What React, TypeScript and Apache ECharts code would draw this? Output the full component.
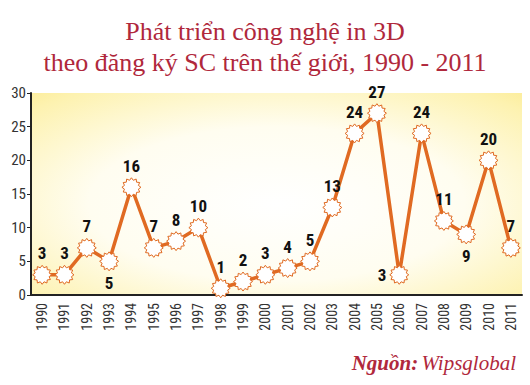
import React, { useEffect, useRef } from "react";
import * as echarts from "echarts";

const years = ["1990","1991","1992","1993","1994","1995","1996","1997","1998","1999","2000","2001","2002","2003","2004","2005","2006","2007","2008","2009","2010","2011"];
const values = [3,3,7,5,16,7,8,10,1,2,3,4,5,13,24,27,3,24,11,9,20,7];
const labelPos = ["top","top","top","bottom","top","top","top","top","top","top","top","top","top","top","top","top","left","top","top","bottom","top","top"];
const yTicks = [0, 5, 10, 15, 20, 25, 30];

function starPath(): string {
  const n = 12;
  const pts: string[] = [];
  for (let i = 0; i < n * 2; i++) {
    const r = i % 2 === 0 ? 50 : 38;
    const a = (Math.PI * i) / n - Math.PI / 2;
    pts.push(`${(50 + r * Math.cos(a)).toFixed(2)} ${(50 + r * Math.sin(a)).toFixed(2)}`);
  }
  return "path://M" + pts.join(" L") + " Z";
}

export default function App() {
  const ref = useRef<HTMLDivElement>(null);
  useEffect(() => {
    if (!ref.current) return;
    const chart = echarts.init(ref.current, null, { renderer: "svg" });
    const sym = starPath();
    const font = "'Liberation Sans Narrow', 'Roboto Condensed', 'DejaVu Sans Condensed', sans-serif";
    chart.setOption({
      animation: false,
      backgroundColor: "#ffffff",
      title: {
        text: "Phát triển công nghệ in 3D\ntheo đăng ký SC trên thế giới, 1990 - 2011",
        left: "center",
        top: 11,
        textStyle: {
          color: "#b0283c",
          fontFamily: "'Liberation Serif', serif",
          fontWeight: "normal",
          fontSize: 26,
          lineHeight: 31,
          align: "center",
        },
      },
      graphic: [
        {
          type: "text",
          right: 14,
          top: 352,
          style: {
            text: "{b|Nguồn:} {i|Wipsglobal}",
            rich: {
              b: { fontFamily: "'Liberation Serif', serif", fontWeight: "bold", fontStyle: "italic", fontSize: 21, fill: "#b0283c" },
              i: { fontFamily: "'Liberation Serif', serif", fontStyle: "italic", fontSize: 21, fill: "#b0283c" },
            },
          },
        },
      ],
      grid: {
        left: 31,
        right: 8,
        top: 93,
        bottom: 90,
        show: true,
        borderWidth: 0,
        backgroundColor: {
          type: "radial",
          x: 0.5,
          y: 0.55,
          r: 0.85,
          colorStops: [
            { offset: 0, color: "#ffffff" },
            { offset: 0.45, color: "#fffdf0" },
            { offset: 0.8, color: "#fdf2b0" },
            { offset: 1, color: "#fbe680" },
          ],
        },
      },
      xAxis: {
        type: "category",
        data: years,
        boundaryGap: true,
        axisLine: { lineStyle: { color: "#222222", width: 2 } },
        axisTick: { show: false },
        axisLabel: {
          rotate: 90,
          color: "#333333",
          fontSize: 14,
          fontFamily: font,
          margin: 8,
        },
      },
      yAxis: {
        type: "value",
        min: 0,
        max: 30,
        interval: 5,
        splitLine: { show: false },
        axisLine: { show: true, lineStyle: { color: "#222222", width: 2 } },
        axisTick: { show: true, length: 4, lineStyle: { color: "#222222" } },
        axisLabel: {
          color: "#333333",
          fontSize: 15,
          fontFamily: font,
          margin: 5,
          formatter: (v: number) => (yTicks.includes(v) ? String(v) : ""),
        },
      },
      series: [
        {
          type: "line",
          data: values.map((v, i) => ({
            value: v,
            label: { position: labelPos[i] as any },
          })),
          lineStyle: { color: "#e06a22", width: 3.5 },
          symbol: sym,
          symbolSize: 19,
          itemStyle: { color: "#ffffff", borderColor: "#e06a22", borderWidth: 1 },
          label: {
            show: true,
            color: "#111111",
            fontWeight: "bold",
            fontSize: 17,
            fontFamily: font,
            distance: 3,
          },
        },
      ],
    });
    return () => chart.dispose();
  }, []);
  return <div ref={ref} style={{ position: "fixed", left: 0, top: 0, width: 530, height: 385 }} />;
}
